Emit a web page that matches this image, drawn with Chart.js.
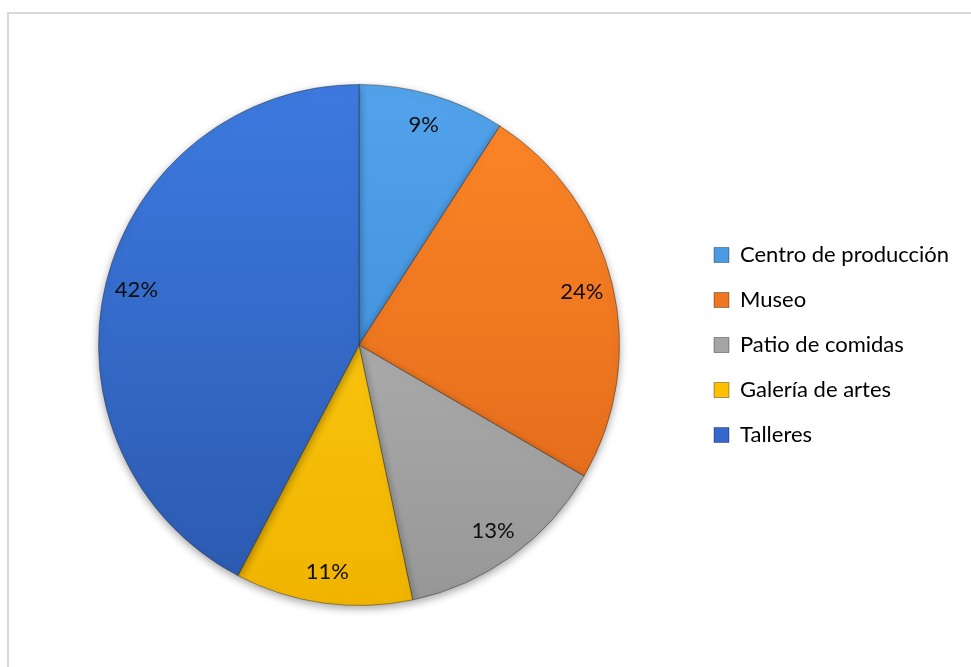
<!DOCTYPE html>
<html>
<head>
<meta charset="utf-8">
<script src="https://cdn.jsdelivr.net/npm/chart.js@4.4.1/dist/chart.umd.min.js"></script>
<style>
  html, body { margin: 0; padding: 0; background: #fff; overflow: hidden; }
  #frame { position: absolute; left: 7px; top: 12px; width: 1000px; height: 700px;
           border-left: 2px solid #d9d9d9; border-top: 2px solid #d9d9d9; }
  #wrap { position: absolute; left: 8px; top: 13px; width: 963px; height: 654px; }
</style>
</head>
<body>
<div id="frame"></div>
<div id="wrap"><canvas id="pie"></canvas></div>
<script>
// data (percent of total)
const categories = ["Centro de producción", "Museo", "Patio de comidas", "Galería de artes", "Talleres"];
const shares = [9.1, 24.3, 13.3, 11.0, 42.3];
const topColors = ["#52a3ec", "#fd8727", "#bcbcbc", "#ffd21a", "#3d7ae0"];
const bottomColors = ["#3684cf", "#de6619", "#979797", "#f0b400", "#2b59ae"];
const legendColors = ["#4a9be2", "#ee7720", "#a5a5a5", "#ffc000", "#3468cc"];

const FONT = "Lato, 'Open Sans', sans-serif";

function sliceFill(ctx) {
  const area = ctx.chart.chartArea;
  const i = ctx.dataIndex;
  if (!area) return legendColors[i];
  const g = ctx.chart.ctx.createLinearGradient(0, area.top, 0, area.bottom);
  g.addColorStop(0, topColors[i]);
  g.addColorStop(1, bottomColors[i]);
  return g;
}

// percent labels inside the slices
const pctLabels = {
  id: "pctLabels",
  afterDatasetsDraw(chart) {
    const ctx = chart.ctx;
    const meta = chart.getDatasetMeta(0);
    ctx.save();
    ctx.font = "22px " + FONT;
    ctx.fillStyle = "#0d0d0d";
    ctx.textAlign = "center";
    ctx.textBaseline = "middle";
    meta.data.forEach((arc, i) => {
      const p = arc.getProps(["x", "y", "startAngle", "endAngle", "outerRadius"], true);
      const mid = (p.startAngle + p.endAngle) / 2;
      const r = p.outerRadius * 0.88;
      ctx.fillText(Math.round(shares[i]) + "%", p.x + Math.cos(mid) * r, p.y + Math.sin(mid) * r);
    });
    ctx.restore();
  }
};

// soft shadow under the pie
const pieShadow = {
  id: "pieShadow",
  beforeDatasetsDraw(chart) {
    const ctx = chart.ctx;
    ctx.save();
    ctx.shadowColor = "rgba(0,0,0,0.35)";
    ctx.shadowBlur = 8;
    ctx.shadowOffsetY = 3;
  },
  afterDatasetsDraw(chart) {
    chart.ctx.restore();
  }
};

// move the legend column right, as in the original sheet
const legendShift = {
  id: "legendShift",
  afterLayout(chart) {
    const lg = chart.legend;
    lg.left = 683;
    lg.right = 962;
  }
};

new Chart("pie", {
  type: "pie",
  data: {
    labels: categories,
    datasets: [{
      data: shares,
      backgroundColor: sliceFill,
      borderColor: "rgba(40,40,40,0.45)",
      borderWidth: 1
    }]
  },
  options: {
    responsive: true,
    maintainAspectRatio: false,
    animation: false,
    layout: { padding: { left: 90, top: 71, bottom: 61, right: 251 } },
    plugins: {
      tooltip: { enabled: false },
      legend: {
        position: "right",
        maxWidth: 100,
        labels: {
          boxWidth: 15,
          boxHeight: 15,
          padding: 23,
          color: "#0d0d0d",
          font: { size: 22, family: FONT },
          generateLabels(chart) {
            return categories.map((c, i) => ({
              text: c,
              fillStyle: legendColors[i],
              strokeStyle: "rgba(0,0,0,0.35)",
              lineWidth: 1,
              index: i,
              hidden: false
            }));
          }
        }
      }
    }
  },
  plugins: [pieShadow, pctLabels, legendShift]
});
</script>
</body>
</html>
